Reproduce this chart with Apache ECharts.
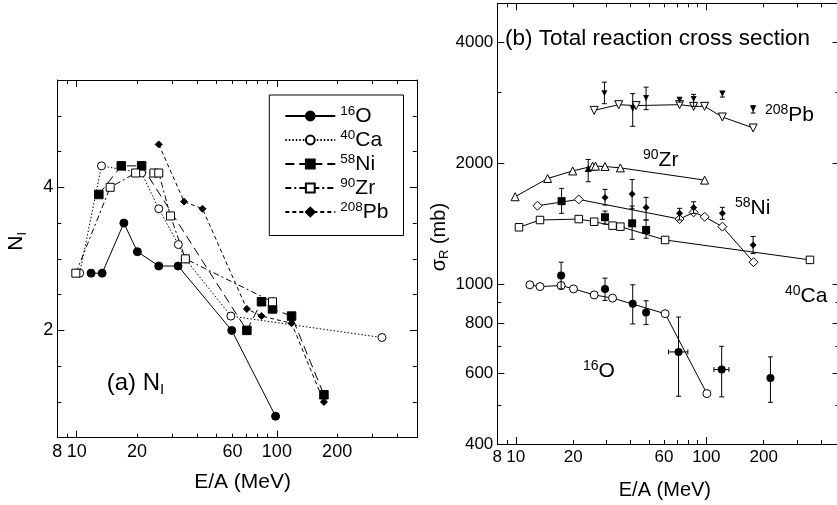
<!DOCTYPE html>
<html>
<head>
<meta charset="utf-8">
<script src="https://cdn.jsdelivr.net/npm/echarts@6/dist/echarts.min.js"></script>
<style>
  html, body { margin: 0; padding: 0; background: #fff; }
  #chart { width: 837px; height: 505px; }
</style>
</head>
<body>
<div id="chart"></div>
<script>
// ---- panel (a): N_I vs E/A ----
const oE = [11.8, 13.4, 17.2, 20.1, 25.7, 32.1, 59.5, 98.5];
const oN = [2.8, 2.8, 3.5, 3.1, 2.9, 2.9, 2.0, 0.8];
const caE = [10.35, 13.3, 21.1, 25.7, 32.2, 34.9, 58.9, 335];
const caN = [2.8, 4.3, 4.2, 3.7, 3.2, 3.0, 2.2, 1.9];
const niE = [12.9, 16.7, 21.1, 70.8, 83.8, 95.1, 118.4, 171.8];
const niN = [3.9, 4.3, 4.3, 2.0, 2.4, 2.3, 2.2, 1.1];
const zrE = [9.9, 14.7, 19.7, 24.3, 25.7, 29.4, 34.9, 95.1];
const zrN = [2.8, 4.0, 4.2, 4.2, 4.2, 3.6, 3.0, 2.4];
const pbE = [25.7, 34.4, 42.5, 70.8, 83.8, 118.4, 171.8];
const pbN = [4.6, 3.8, 3.7, 2.3, 2.2, 2.1, 1.0];

// ---- panel (b): sigma_R, calculated curves ----
const pbThE = [25.8, 34.7, 42.8, 72.4, 85.8, 97.9, 121.4, 176];
const pbThS = [2707, 2797, 2782, 2797, 2770, 2770, 2606, 2447];
const zrThE = [9.92, 14.7, 19.9, 25.3, 26.2, 29.4, 35.4, 98];
const zrThS = [1650, 1832, 1913, 1966, 1966, 1962, 1947, 1815];
const niThE = [13.0, 21.4, 72.4, 85.8, 98, 121.4, 177];
const niThS = [1567, 1625, 1452, 1509, 1471, 1390, 1134];
const caThE = [10.4, 13.4, 21.4, 25.8, 32.2, 35.4, 60.8, 350];
const caThS = [1385, 1444, 1452, 1430, 1398, 1390, 1288, 1149];
const oThE = [11.85, 13.4, 17.3, 20.1, 25.8, 32.2, 60.8, 100.7];
const oThS = [996, 986, 992, 973, 940, 923, 844, 534];

// ---- panel (b): measured values with errors ----
const pbExE = [29.2, 41.1, 48.3, 72.4, 85.8, 121.4, 176];
const pbExS = [2988, 2734, 2904, 2877, 2888, 2979, 2734];
const pbExLo = [2812, 2471, 2718, 2839, 2770, 2921, 2666];
const pbExHi = [3182, 2979, 3092, 2911, 2967, 3023, 2782];
const zrExE = [24.0];
const zrExS = [1940];
const zrExLo = [1798];
const zrExHi = [2043];
const niExE = [29.4, 40.8, 48.3, 72.4, 85.8, 121.4, 176];
const niExS = [1644, 1675, 1552, 1500, 1552, 1500, 1252];
const niExLo = [1573, 1540, 1444, 1444, 1500, 1450, 1192];
const niExHi = [1721, 1822, 1644, 1544, 1603, 1553, 1314];
const caExE = [17.4, 29.4, 40.8, 48.3];
const caExS = [1609, 1467, 1417, 1364];
const caExLo = [1500, 1411, 1293, 1301];
const caExHi = [1731, 1520, 1564, 1444];
const oExE = [17.3, 29.4, 41.1, 48.3, 71.5, 120.4, 217];
const oExS = [1050, 972, 894, 850, 678, 613, 584];
const oExLo = [972, 911, 796, 793, 526, 524, 508];
const oExHi = [1134, 1035, 996, 909, 828, 700, 659];
const oExXLo = [17.3, 29.4, 41.1, 48.3, 63.3, 109.6, 217];
const oExXHi = [17.3, 29.4, 41.1, 48.3, 80.0, 131.5, 217];

// ---- ticks ----
const eTicks = [8, 9, 10, 20, 30, 40, 50, 60, 70, 80, 90, 100, 200, 300, 400, 500];
const eMajor = [10, 100];
const eLabels = [8, 10, 20, 60, 100, 200];
const nTicks = [0.5, 1, 1.5, 2, 2.5, 3, 3.5, 4, 4.5, 5, 5.5];
const nLabels = [2, 4];
const sTicks = [400, 500, 600, 700, 800, 900, 1000, 2000, 3000, 4000, 5000];
const sLabels = [400, 600, 800, 1000, 2000, 4000];

const FONT = 'Liberation Sans';
const lg = v => Math.log10(v);
const unlog = v => String(Math.round(Math.pow(10, v)));

function axisPair(grid, pos, min, max, minor, major, labels, fontSize, fmt, extra) {
  const base = { type: 'value', gridIndex: grid, position: pos, min: min, max: max,
    splitLine: { show: false }, axisPointer: { show: false } };
  const main = Object.assign({}, base, {
    axisLine: { show: true, onZero: false, lineStyle: { color: '#000', width: 1 } },
    axisTick: { show: true, inside: true, length: 7, customValues: major, lineStyle: { color: '#000', width: 1 } },
    axisLabel: labels ? { show: true, customValues: labels, formatter: fmt, color: '#000',
      fontSize: fontSize, fontFamily: FONT, margin: (pos === 'left' ? 4 : 5) } : { show: false }
  }, extra || {});
  const sub = Object.assign({}, base, {
    axisLine: { show: false, onZero: false },
    axisTick: { show: true, inside: true, length: 4, customValues: minor, lineStyle: { color: '#000', width: 1 } },
    axisLabel: { show: false }
  });
  return [main, sub];
}

const xName = (size, pad) => ({
  name: 'E/A (MeV)', nameLocation: 'middle', nameMoveOverlap: false,
  nameTextStyle: { color: '#000', fontSize: size, fontFamily: FONT, padding: pad }
});

const xAxes = [].concat(
  axisPair(0, 'bottom', lg(8), lg(500), eTicks.map(lg), eMajor.map(lg), eLabels.map(lg), 18, unlog,
    Object.assign(xName(21, [0, 0, 0, 11]), { nameGap: 34 })),
  axisPair(0, 'top', lg(8), lg(500), eTicks.map(lg), eMajor.map(lg)),
  axisPair(1, 'bottom', lg(8), lg(500), eTicks.map(lg), eMajor.map(lg), eLabels.map(lg), 17, unlog,
    Object.assign(xName(20, [0, 7, 0, 0]), { nameGap: 36 })),
  axisPair(1, 'top', lg(8), lg(500), eTicks.map(lg), eMajor.map(lg))
);

const yAxes = [].concat(
  axisPair(0, 'left', 0.5, 5.5, nTicks, nLabels, nLabels, 18, v => String(v), {
    name: '{m|N}{s|I}', nameLocation: 'middle', nameGap: 28, nameMoveOverlap: false,
    nameTextStyle: { padding: [0, 0, 0, 35], rich: {
      m: { fontSize: 21, fontFamily: FONT, color: '#000', lineHeight: 26 },
      s: { fontSize: 13, fontFamily: FONT, color: '#000', verticalAlign: 'bottom', lineHeight: 12 } } }
  }),
  axisPair(0, 'right', 0.5, 5.5, nTicks, nLabels),
  axisPair(1, 'left', lg(400), lg(5000), sTicks.map(lg), sLabels.map(lg), sLabels.map(lg), 17, unlog, {
    name: '{m|σ}{s|R}{m| (mb)}', nameLocation: 'middle', nameGap: 46, nameMoveOverlap: false,
    nameTextStyle: { padding: [0, 27, 0, 0], rich: {
      m: { fontSize: 20, fontFamily: FONT, color: '#000', lineHeight: 24 },
      s: { fontSize: 13, fontFamily: FONT, color: '#000', verticalAlign: 'bottom', lineHeight: 11 } } }
  }),
  axisPair(1, 'right', lg(400), lg(5000), sTicks.map(lg), sLabels.map(lg))
);

const pts = (xs, ys) => xs.map((x, i) => [lg(x), ys[i]]);
const lpts = (xs, ys) => xs.map((x, i) => [lg(x), lg(ys[i])]);
const errPts = (xs, ys, lo, hi, xlo, xhi) =>
  xs.map((x, i) => [lg(x), lg(ys[i]), lg(lo[i]), lg(hi[i]), lg((xlo || xs)[i]), lg((xhi || xs)[i])]);

function lineA(name, xs, ys, symbol, size, filled, dash) {
  return {
    type: 'line', name: name, xAxisIndex: 0, yAxisIndex: 0, data: pts(xs, ys),
    symbol: symbol, symbolSize: size, showAllSymbol: true, animation: false,
    itemStyle: filled ? { color: '#000', borderColor: '#000', borderWidth: 1 }
                      : { color: '#fff', borderColor: '#000', borderWidth: 1 },
    lineStyle: { color: '#000', width: 1, type: dash },
    emphasis: { disabled: true }, z: 3
  };
}

function theoryB(name, xs, ys, symbol, size, rotate) {
  return {
    type: 'line', name: name, xAxisIndex: 4, yAxisIndex: 4, data: lpts(xs, ys),
    symbol: symbol, symbolSize: size, symbolRotate: rotate || 0, showAllSymbol: true, animation: false,
    itemStyle: { color: '#fff', borderColor: '#000', borderWidth: 1 },
    lineStyle: { color: '#000', width: 1 }, emphasis: { disabled: true }, z: 3
  };
}

function seg(x1, y1, x2, y2) {
  return { type: 'line', shape: { x1: x1, y1: y1, x2: x2, y2: y2 }, style: { stroke: '#000', lineWidth: 1 } };
}

function renderErr(params, api) {
  const x = api.value(0);
  const a = api.coord([x, api.value(2)]);
  const b = api.coord([x, api.value(3)]);
  const cap = 2.5;
  const kids = [seg(a[0], a[1], b[0], b[1]), seg(a[0] - cap, a[1], a[0] + cap, a[1]), seg(b[0] - cap, b[1], b[0] + cap, b[1])];
  const xl = api.value(4), xh = api.value(5);
  if (xh > xl) {
    const y = api.value(1);
    const c = api.coord([xl, y]);
    const d = api.coord([xh, y]);
    kids.push(seg(c[0], c[1], d[0], d[1]), seg(c[0], c[1] - cap, c[0], c[1] + cap), seg(d[0], d[1] - cap, d[0], d[1] + cap));
  }
  return { type: 'group', children: kids };
}

function expB(name, xs, ys, lo, hi, symbol, size, rotate, xlo, xhi) {
  return [
    { type: 'custom', name: name + ' err', xAxisIndex: 4, yAxisIndex: 4, renderItem: renderErr,
      data: errPts(xs, ys, lo, hi, xlo, xhi), encode: { x: 0, y: 1 }, animation: false, silent: true, z: 4 },
    { type: 'scatter', name: name, xAxisIndex: 4, yAxisIndex: 4, data: lpts(xs, ys),
      symbol: symbol, symbolSize: size, symbolRotate: rotate || 0, animation: false,
      itemStyle: { color: '#000', opacity: 1 }, emphasis: { disabled: true }, z: 5 }
  ];
}

const series = [
  lineA('16O', oE, oN, 'circle', 8, true, 'solid'),
  lineA('40Ca', caE, caN, 'circle', 8, false, [1.5, 2]),
  lineA('58Ni', niE, niN, 'rect', 8.5, true, [9, 5]),
  lineA('90Zr', zrE, zrN, 'rect', 8, false, [6, 3, 2, 3]),
  lineA('208Pb', pbE, pbN, 'diamond', 7, true, [4, 3]),
  theoryB('Pb calc', pbThE, pbThS, 'triangle', 8, 180),
  theoryB('Zr calc', zrThE, zrThS, 'triangle', 8),
  theoryB('Ni calc', niThE, niThS, 'diamond', 9),
  theoryB('Ca calc', caThE, caThS, 'rect', 7.5),
  theoryB('O calc', oThE, oThS, 'circle', 8)
].concat(
  expB('Pb exp', pbExE, pbExS, pbExLo, pbExHi, 'triangle', 6, 180),
  expB('Zr exp', zrExE, zrExS, zrExLo, zrExHi, 'triangle', 7),
  expB('Ni exp', niExE, niExS, niExLo, niExHi, 'diamond', 7),
  expB('Ca exp', caExE, caExS, caExLo, caExHi, 'rect', 8),
  expB('O exp', oExE, oExS, oExLo, oExHi, 'circle', 8, 0, oExXLo, oExXHi)
);

const supRich = (main, sup) => ({
  m: { fontSize: main, fontFamily: FONT, fill: '#000', lineHeight: 24 },
  s: { fontSize: sup, fontFamily: FONT, fill: '#000', verticalAlign: 'top', lineHeight: 10 }
});

function tag(x, y, sup, main) {
  return { type: 'text', x: x, y: y, z: 10,
    style: { text: '{s|' + sup + '}{m|' + main + '}', verticalAlign: 'middle', align: 'left', rich: supRich(21, 14) } };
}

const chart = echarts.init(document.getElementById('chart'), null, { renderer: 'canvas' });
chart.setOption({
  animation: false,
  backgroundColor: '#fff',
  textStyle: { fontFamily: FONT, color: '#000' },
  grid: [
    { left: 57.3, top: 80, width: 359.5, height: 357.7, outerBoundsMode: 'none', containLabel: false },
    { left: 497.3, top: 3.3, width: 342.2, height: 440.7, outerBoundsMode: 'none', containLabel: false }
  ],
  xAxis: xAxes,
  yAxis: yAxes,
  legend: {
    orient: 'vertical', left: 269.3, top: 95, padding: [9, 15, 13, 15],
    itemWidth: 50, itemHeight: 11, itemGap: 1.5, selectedMode: false,
    borderColor: '#000', borderWidth: 1, backgroundColor: '#fff',
    data: ['16O', '40Ca', '58Ni', '90Zr', '208Pb'],
    formatter: name => name.replace(/^(\d+)(\D+)$/, '{s|$1}{m|$2}'),
    textStyle: { rich: {
      m: { fontSize: 21, fontFamily: FONT, color: '#000', lineHeight: 24 },
      s: { fontSize: 13.5, fontFamily: FONT, color: '#000', verticalAlign: 'top', lineHeight: 10 } } }
  },
  graphic: [
    { type: 'text', x: 106.7, y: 383, z: 10, style: { text: '{m|(a) N}{s|I}', verticalAlign: 'middle', rich: {
      m: { fontSize: 24, fontFamily: FONT, fill: '#000', lineHeight: 28 },
      s: { fontSize: 15, fontFamily: FONT, fill: '#000', verticalAlign: 'bottom', lineHeight: 12 } } } },
    { type: 'text', x: 505, y: 39, z: 10, style: { text: '(b) Total reaction cross section',
      verticalAlign: 'middle', fontSize: 22.5, fontFamily: FONT, fill: '#000' } },
    tag(765, 115, '208', 'Pb'),
    tag(643, 160, '90', 'Zr'),
    tag(735, 208, '58', 'Ni'),
    tag(785, 296, '40', 'Ca'),
    tag(583, 371, '16', 'O')
  ],
  series: series
});
</script>
</body>
</html>
